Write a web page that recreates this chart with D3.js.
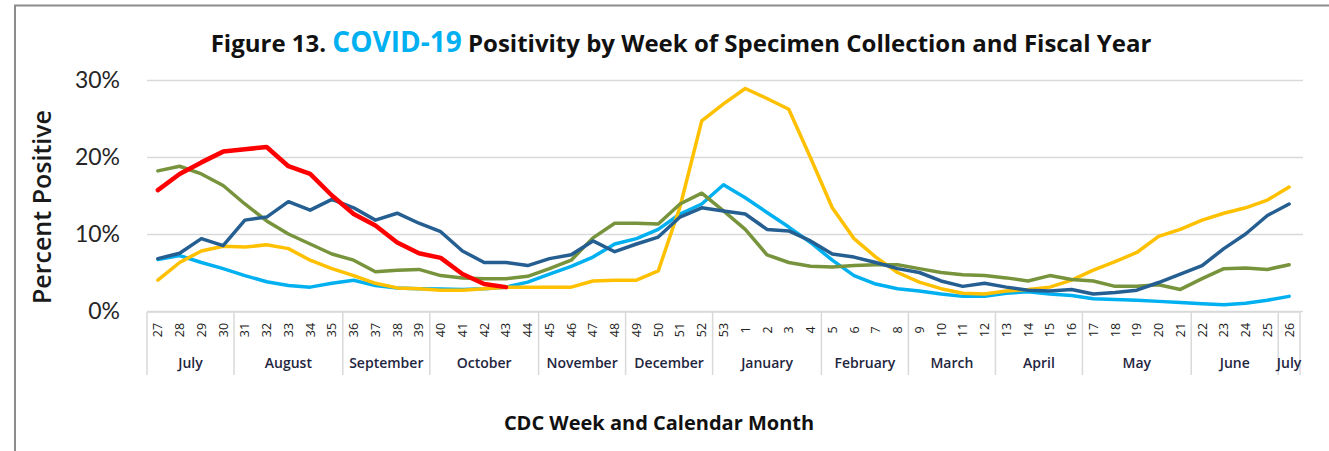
<!DOCTYPE html>
<html>
<head>
<meta charset="utf-8">
<script src="https://cdn.jsdelivr.net/npm/d3@7"></script>
<style>
  body { margin: 0; background: #fff; }
  svg { display: block; font-family: "Open Sans", Lato, sans-serif; }
</style>
</head>
<body>
<svg id="canvas" width="1329" height="451"></svg>
<script>
// CDC weeks, fiscal year order (July -> July)
let weeks = [27, 28, 29, 30, 31, 32, 33, 34, 35, 36, 37, 38, 39, 40, 41, 42, 43, 44, 45, 46, 47, 48, 49, 50, 51, 52, 53,
             1, 2, 3, 4, 5, 6, 7, 8, 9, 10, 11, 12, 13, 14, 15, 16, 17, 18, 19, 20, 21, 22, 23, 24, 25, 26]

let months = ['July', 'August', 'September', 'October', 'November', 'December', 'January',
              'February', 'March', 'April', 'May', 'June', 'July']
let weeksPerMonth = [4, 5, 4, 5, 4, 4, 5, 4, 4, 4, 5, 4, 1]

let yTicks = [0, 10, 20, 30]

// percent positive per fiscal year (one line each)
let lightBlueYear = [6.7, 7.2, 6.3, 5.5, 4.6, 3.8, 3.3, 3.1, 3.6, 4.0, 3.3, 3.0, 2.9, 2.85, 2.8, 2.9, 3.1, 3.75,
                     4.8, 5.8, 7.0, 8.7, 9.4, 10.6, 12.6, 13.9, 16.4, 14.7, 12.8, 10.9, 8.9, 6.6, 4.6, 3.5, 2.9,
                     2.6, 2.2, 1.9, 1.9, 2.3, 2.5, 2.2, 2.0, 1.6, 1.5, 1.4, 1.25, 1.1, 0.95, 0.8, 1.0, 1.4, 1.9]
let yellowYear = [4.0, 6.3, 7.8, 8.4, 8.3, 8.6, 8.1, 6.6, 5.5, 4.6, 3.6, 3.0, 2.9, 2.7, 2.7, 2.9, 3.1, 3.1,
                  3.1, 3.1, 3.9, 4.0, 4.0, 5.2, 13.5, 24.7, 26.9, 28.9, 27.6, 26.2, 19.9, 13.4, 9.4, 7.0, 5.0,
                  3.75, 2.9, 2.3, 2.2, 2.6, 2.8, 3.1, 4.0, 5.3, 6.4, 7.6, 9.7, 10.6, 11.8, 12.7, 13.4, 14.4, 16.1]
let greenYear = [18.2, 18.8, 17.8, 16.3, 13.9, 11.7, 10.0, 8.7, 7.4, 6.6, 5.1, 5.3, 5.4, 4.6, 4.3, 4.2, 4.2, 4.5,
                 5.5, 6.6, 9.5, 11.4, 11.4, 11.3, 13.9, 15.3, 13.0, 10.6, 7.3, 6.3, 5.8, 5.7, 5.9, 6.0, 6.0,
                 5.5, 5.0, 4.7, 4.6, 4.3, 3.9, 4.6, 4.1, 3.9, 3.2, 3.2, 3.4, 2.8, 4.2, 5.5, 5.6, 5.4, 6.0]
let darkBlueYear = [6.8, 7.5, 9.4, 8.5, 11.8, 12.2, 14.2, 13.1, 14.5, 13.4, 11.8, 12.7, 11.4, 10.3, 7.8, 6.3, 6.3, 5.9,
                    6.8, 7.3, 9.1, 7.7, 8.7, 9.6, 12.2, 13.4, 13.0, 12.6, 10.6, 10.4, 9.1, 7.4, 7.0, 6.3, 5.5,
                    5.0, 3.9, 3.2, 3.6, 3.1, 2.7, 2.6, 2.8, 2.2, 2.4, 2.7, 3.7, 4.8, 5.9, 8.1, 10.0, 12.4, 13.9]
// current year, only through week 43
let redYear = [15.7, 17.8, 19.3, 20.7, 21.0, 21.3, 18.8, 17.8, 15.0, 12.6, 11.1, 8.9, 7.5, 6.9, 4.8, 3.5, 3.1]

let seriesList = [
    { values: lightBlueYear, color: '#00B0F0', width: 3.5 },
    { values: yellowYear, color: '#FFC000', width: 3.5 },
    { values: greenYear, color: '#77933C', width: 3.5 },
    { values: darkBlueYear, color: '#255E91', width: 3.5 },
    { values: redYear, color: '#FF0000', width: 4.5 }
]

let canvas = d3.select('#canvas')

let plotLeft = 147, plotRight = 1300, plotTop = 80, plotBottom = 311

let xScale = d3.scaleBand()
               .domain(weeks)
               .range([plotLeft, plotRight])

let yScale = d3.scaleLinear()
               .domain([0, 30])
               .range([plotBottom, plotTop])

// outer frame (top and left edges visible)
canvas.append('path')
      .attr('d', 'M15,451 V5.5 H1329')
      .attr('fill', 'none')
      .attr('stroke', '#8c8c8c')
      .attr('stroke-width', 2)

// title
let title = canvas.append('text')
                  .attr('x', 681)
                  .attr('y', 52)
                  .attr('text-anchor', 'middle')
                  .attr('font-weight', 'bold')
                  .attr('font-size', 24)
                  .attr('fill', '#111')
title.append('tspan').text('Figure 13. ')
title.append('tspan').text('COVID-19').attr('fill', '#00B0F0').attr('font-size', 28)
title.append('tspan').text(' Positivity by Week of Specimen Collection and Fiscal Year')

// gridlines + y labels
let yAxis = d3.axisLeft(yScale)
              .tickValues(yTicks)
              .tickSize(-(plotRight + 3 - plotLeft))
              .tickFormat(d => d + '%')

let yGroup = canvas.append('g')
                   .attr('transform', `translate(${plotLeft},0)`)
                   .call(yAxis)
yGroup.select('.domain').remove()
yGroup.selectAll('line').attr('stroke', '#d9d9d9').attr('stroke-width', 1.5)
yGroup.selectAll('text')
      .attr('x', -27)
      .attr('font-size', 23)
      .attr('fill', '#262626')
      .attr('font-family', 'Lato, sans-serif')

// y title
canvas.append('text')
      .attr('transform', 'translate(51,207) rotate(-90)')
      .attr('text-anchor', 'middle')
      .attr('font-size', 25)
      .attr('font-weight', 600)
      .attr('fill', '#1a1a1a')
      .text('Percent Positive')

// week labels
canvas.append('g')
      .selectAll('text')
      .data(weeks)
      .enter()
      .append('text')
      .attr('transform', d => `translate(${xScale(d) + xScale.bandwidth() / 2 + 4.5},330) rotate(-90)`)
      .attr('text-anchor', 'middle')
      .attr('font-size', 12.5)
      .attr('fill', '#222')
      .text(d => d)

// month groups and separators
let groups = []
let start = 0
weeksPerMonth.forEach((n, k) => {
    groups.push({ name: months[k], first: weeks[start], last: weeks[start + n - 1] })
    start += n
})

let sepX = [plotLeft].concat(groups.map(g => xScale(g.last) + xScale.bandwidth()))

canvas.append('line')
      .attr('x1', plotLeft).attr('x2', plotRight)
      .attr('y1', plotBottom + 1).attr('y2', plotBottom + 1)
      .attr('stroke', '#d9d9d9').attr('stroke-width', 1.5)

canvas.append('g')
      .selectAll('line')
      .data(sepX)
      .enter()
      .append('line')
      .attr('x1', d => d).attr('x2', d => d)
      .attr('y1', plotBottom + 1).attr('y2', 375)
      .attr('stroke', '#d9d9d9')
      .attr('stroke-width', 1.5)

canvas.append('g')
      .selectAll('text')
      .data(groups)
      .enter()
      .append('text')
      .attr('x', g => (xScale(g.first) + xScale(g.last) + xScale.bandwidth()) / 2)
      .attr('y', 368)
      .attr('text-anchor', 'middle')
      .attr('font-size', 14)
      .attr('font-weight', 600)
      .attr('fill', '#1f2640')
      .text(g => g.name)

// x title
canvas.append('text')
      .attr('x', 659)
      .attr('y', 430)
      .attr('text-anchor', 'middle')
      .attr('font-size', 20)
      .attr('font-weight', 'bold')
      .attr('fill', '#111')
      .text('CDC Week and Calendar Month')

// lines
let line = d3.line()
             .x((v, i) => xScale(weeks[i]) + xScale.bandwidth() / 2)
             .y(v => yScale(v))

canvas.append('g')
      .selectAll('path')
      .data(seriesList)
      .enter()
      .append('path')
      .attr('d', s => line(s.values))
      .attr('fill', 'none')
      .attr('stroke', s => s.color)
      .attr('stroke-width', s => s.width)
      .attr('stroke-linejoin', 'round')
      .attr('stroke-linecap', 'round')
</script>
</body>
</html>
